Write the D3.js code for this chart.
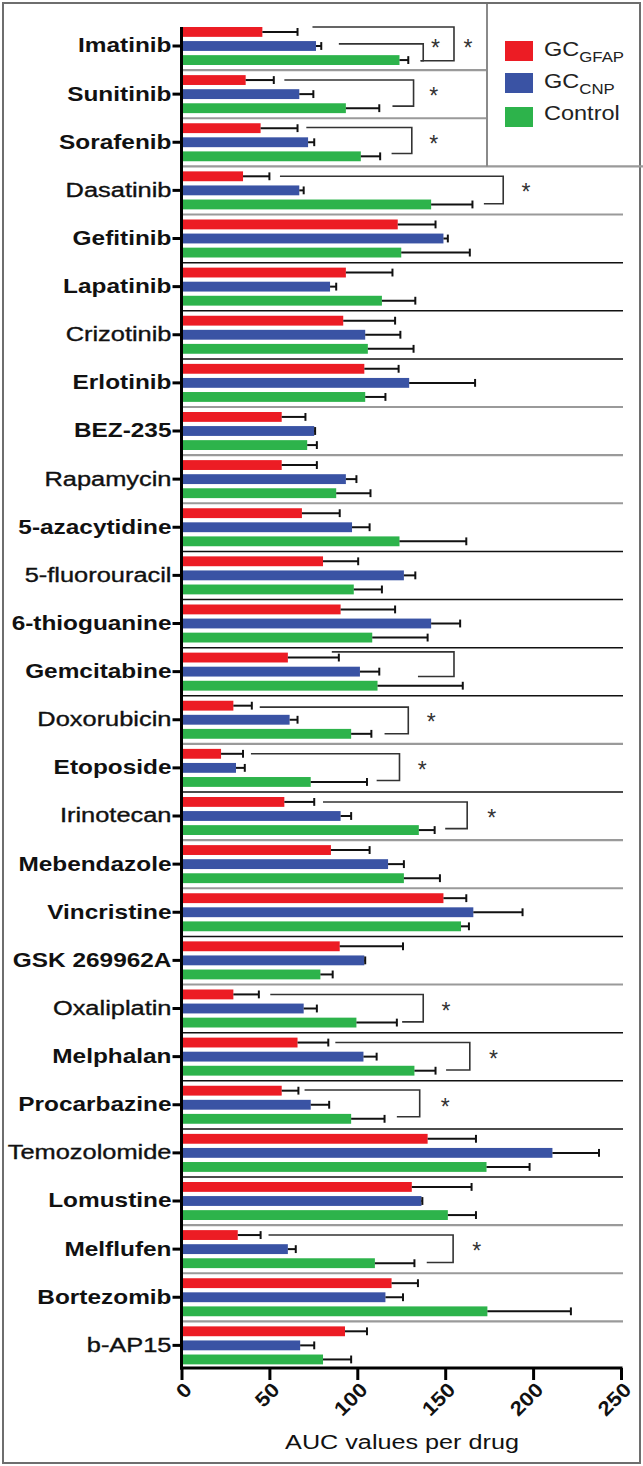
<!DOCTYPE html>
<html>
<head>
<meta charset="utf-8">
<script src="https://cdn.jsdelivr.net/npm/d3@7"></script>
<style>
  body { margin: 0; background: #fff; }
  svg text { font-family: "Liberation Sans", Arial, sans-serif; }
</style>
</head>
<body>
<div id="chart"></div>
<script>
// drugs, top to bottom
const drugs = ['Imatinib', 'Sunitinib', 'Sorafenib', 'Dasatinib', 'Gefitinib', 'Lapatinib',
    'Crizotinib', 'Erlotinib', 'BEZ-235', 'Rapamycin', '5-azacytidine', '5-fluorouracil',
    '6-thioguanine', 'Gemcitabine', 'Doxorubicin', 'Etoposide', 'Irinotecan', 'Mebendazole',
    'Vincristine', 'GSK 269962A', 'Oxaliplatin', 'Melphalan', 'Procarbazine', 'Temozolomide',
    'Lomustine', 'Melflufen', 'Bortezomib', 'b-AP15']

const series = ['GFAP', 'CNP', 'Control']

// AUC means and error bar sizes
const gfap = [46, 36.5, 45, 35, 123, 93.5, 92, 104, 57, 57, 68.5, 80.5, 90.5, 60.5, 29.5, 22.5,
    58.5, 85, 149, 90, 29.5, 66, 57, 140, 131, 32, 119.5, 93]
const gfapErr = [20, 16, 21, 15, 21.5, 26.5, 29.5, 19.5, 13.5, 20, 21.5, 20, 31, 29, 10.5, 12.5,
    17, 22, 13, 36, 14.5, 17.5, 9.5, 27.5, 34, 13, 15, 12.5]
const cnp = [76.5, 67, 72, 67, 149, 84.5, 104.5, 129.5, 75.5, 93.5, 97, 126.5, 142, 101.5, 61.5, 31,
    90.5, 117.5, 166, 104, 69.5, 103.5, 73.5, 211, 136.5, 60.5, 116, 67.5]
const cnpErr = [3, 8, 3.5, 2.5, 2.5, 3.5, 20, 37.5, 0.5, 6, 10, 6.5, 16.5, 11, 4.5, 5,
    6, 9, 28, 0.5, 7.5, 7.5, 10.5, 26.5, 0.5, 4.5, 10, 8]
const control = [124, 93.5, 102, 142, 125, 114, 106, 104.5, 71.5, 88, 124, 98, 108.5, 111.5, 96.5, 73.5,
    135, 126.5, 159, 79, 99.5, 132.5, 96.5, 173.5, 151.5, 110, 174, 80.5]
const controlErr = [5, 19, 11, 23.5, 39, 19, 26, 11.5, 5.5, 19.5, 38, 16, 31.5, 48.5, 11.5, 32,
    9, 20.5, 4.5, 7, 23, 12, 19, 24.5, 16, 22.5, 47.5, 16]

// significance brackets: from/to are series positions (0 = GFAP, 2 = Control)
const brackets = [
    { drug: 'Imatinib', from: -0.35, to: 2.05, at: 155, topStart: 74.5, botStart: 136, star: 163 },
    { drug: 'Imatinib', from: 0.85, to: 2.05, at: 137.5, topStart: 89.5, botStart: 136, star: 144.5 },
    { drug: 'Sunitinib', from: 0, to: 1.85, at: 132, topStart: 58.5, botStart: 120, star: 143.5 },
    { drug: 'Sorafenib', from: -0.05, to: 1.8, at: 131, topStart: 71, botStart: 119.5, star: 143.5 },
    { drug: 'Dasatinib', from: 0, to: 1.95, at: 183, topStart: 56, botStart: 172, star: 196 },
    { drug: 'Gemcitabine', from: -0.4, to: 1.35, at: 155, topStart: 85.5, botStart: 134.5, star: null },
    { drug: 'Doxorubicin', from: 0.1, to: 2, at: 129, topStart: 44.5, botStart: 115.5, star: 142 },
    { drug: 'Etoposide', from: 0, to: 1.9, at: 124, topStart: 39.5, botStart: 111, star: 137 },
    { drug: 'Irinotecan', from: 0, to: 1.9, at: 162.5, topStart: 80.5, botStart: 150, star: 176.5 },
    { drug: 'Oxaliplatin', from: 0, to: 1.95, at: 137.5, topStart: 50.5, botStart: 125.5, star: 150.5 },
    { drug: 'Melphalan', from: 0, to: 1.95, at: 164, topStart: 87.5, botStart: 150.5, star: 177.5 },
    { drug: 'Procarbazine', from: -0.05, to: 1.85, at: 135.5, topStart: 70, botStart: 122.5, star: 150 },
    { drug: 'Melflufen', from: 0, to: 1.95, at: 154.5, topStart: 49.5, botStart: 139.5, star: 168 }
]

const xTicks = [0, 50, 100, 150, 200, 250]

const colors = { GFAP: '#ec1c24', CNP: '#3a53a4', Control: '#2db34b' }
const boldLabels = new Set(['Imatinib', 'Sunitinib', 'Sorafenib', 'Gefitinib', 'Lapatinib', 'Erlotinib',
    'BEZ-235', '5-azacytidine', '6-thioguanine', 'Gemcitabine', 'Etoposide', 'Mebendazole',
    'Vincristine', 'GSK 269962A', 'Melphalan', 'Procarbazine', 'Lomustine', 'Melflufen', 'Bortezomib'])
// separator line below each drug: true = black, false = grey
const darkSep = [0, 0, 0, 0, 1, 1, 1, 0, 0, 0, 1, 1, 1, 1, 0, 1, 0, 0, 1, 0, 1, 1, 1, 1, 0, 0, 0]

const W = 643, H = 1466
const svg = d3.select('#chart').append('svg')
    .attr('width', W)
    .attr('height', H)

const rows = drugs.map((d, i) => ({
    drug: d,
    values: [
        { key: 'GFAP', v: gfap[i], e: gfapErr[i] },
        { key: 'CNP', v: cnp[i], e: cnpErr[i] },
        { key: 'Control', v: control[i], e: controlErr[i] }
    ]
}))

const x = d3.scaleLinear().domain([0, 250]).range([181.5, 621])
const y = d3.scaleBand().domain(drugs).range([22, 1369.5])
const ySub = d3.scaleBand().domain(series).range([5, 43]).paddingInner(0.3)
const bw = ySub.bandwidth()
const subStep = ySub.step()
// y of a (possibly fractional) series position inside a drug band
const posY = (drug, p) => y(drug) + ySub('GFAP') + bw / 2 + p * subStep

// outer frame
svg.append('rect')
    .attr('x', 3).attr('y', 3)
    .attr('width', W - 6).attr('height', H - 6)
    .attr('fill', 'none').attr('stroke', '#6e6e6e').attr('stroke-width', 2)

// separators between drugs
svg.append('g').selectAll('line')
    .data(drugs.slice(0, -1))
    .join('line')
    .attr('x1', x(0))
    .attr('x2', (d, i) => i < 2 ? 487 : (i === 2 ? W : x(250) + 2))
    .attr('y1', d => y(d) + y.bandwidth())
    .attr('y2', d => y(d) + y.bandwidth())
    .attr('stroke', (d, i) => darkSep[i] ? '#111' : '#9a9a9a')
    .attr('stroke-width', (d, i) => darkSep[i] ? 1.5 : 2.2)

// legend box edge
svg.append('line')
    .attr('x1', 487).attr('x2', 487).attr('y1', 4).attr('y2', y('Sorafenib') + y.bandwidth())
    .attr('stroke', '#8a8a8a').attr('stroke-width', 2)

// bars
const groups = svg.append('g').selectAll('g')
    .data(rows)
    .join('g')
    .attr('transform', d => 'translate(0,' + y(d.drug) + ')')

groups.selectAll('rect')
    .data(d => d.values)
    .join('rect')
    .attr('x', x(0))
    .attr('y', d => ySub(d.key))
    .attr('width', d => x(d.v) - x(0))
    .attr('height', bw)
    .attr('fill', d => colors[d.key])

// error bars
groups.selectAll('line.err')
    .data(d => d.values)
    .join('line')
    .attr('class', 'err')
    .attr('x1', d => x(d.v))
    .attr('x2', d => x(d.v + d.e))
    .attr('y1', d => ySub(d.key) + bw / 2)
    .attr('y2', d => ySub(d.key) + bw / 2)
    .attr('stroke', '#111').attr('stroke-width', 2)

groups.selectAll('line.cap')
    .data(d => d.values)
    .join('line')
    .attr('class', 'cap')
    .attr('x1', d => x(d.v + d.e))
    .attr('x2', d => x(d.v + d.e))
    .attr('y1', d => ySub(d.key) + 1)
    .attr('y2', d => ySub(d.key) + bw - 1)
    .attr('stroke', '#111').attr('stroke-width', 2)

// significance brackets
const br = svg.append('g')
br.selectAll('path')
    .data(brackets)
    .join('path')
    .attr('d', b => {
        const y1 = posY(b.drug, b.from), y2 = posY(b.drug, b.to)
        return 'M' + x(b.topStart) + ',' + y1 + 'H' + x(b.at) + 'V' + y2 + 'H' + x(b.botStart)
    })
    .attr('fill', 'none').attr('stroke', '#333').attr('stroke-width', 1.6)

br.selectAll('text')
    .data(brackets.filter(b => b.star !== null))
    .join('text')
    .attr('x', b => x(b.star))
    .attr('y', b => posY(b.drug, 1) + 10)
    .attr('text-anchor', 'middle')
    .attr('font-size', 23)
    .attr('fill', '#333')
    .text('*')

// y axis
const yAxis = svg.append('g')
    .attr('transform', 'translate(' + x(0) + ',0)')
    .call(d3.axisLeft(y).tickSize(9).tickSizeOuter(0).tickPadding(3))
yAxis.select('.domain').remove()
yAxis.selectAll('.tick')
    .attr('transform', d => 'translate(0,' + posY(d, 1) + ')')
yAxis.selectAll('.tick line').attr('stroke', '#000').attr('stroke-width', 3)
yAxis.selectAll('.tick text')
    .attr('x', null)
    .attr('transform', d => 'translate(-10,0) scale(' + (boldLabels.has(d) ? 1.22 : 1.27) + ',1)')
    .attr('font-size', 20)
    .attr('font-weight', d => boldLabels.has(d) ? 'bold' : 'normal')
    .attr('fill', '#111')
    .attr('stroke', d => boldLabels.has(d) ? 'none' : '#111')
    .attr('stroke-width', 0.35)
svg.append('line')
    .attr('x1', x(0)).attr('x2', x(0))
    .attr('y1', 27).attr('y2', 1369.5)
    .attr('stroke', '#000').attr('stroke-width', 3)

// x axis
const xAxis = svg.append('g')
    .attr('transform', 'translate(0,1368)')
    .call(d3.axisBottom(x).tickValues(xTicks).tickSize(12).tickSizeOuter(0))
xAxis.select('.domain').remove()
xAxis.selectAll('.tick line').attr('stroke', '#000').attr('stroke-width', 3)
xAxis.selectAll('.tick text')
    .attr('x', null).attr('y', null).attr('dy', '0.35em')
    .attr('text-anchor', 'end')
    .attr('transform', 'translate(6,18) rotate(-45) scale(1.12,1)')
    .attr('font-size', 20)
    .attr('font-weight', 'bold')
    .attr('fill', '#111')
svg.append('line')
    .attr('x1', x(0) - 1.5).attr('x2', x(250) + 1.5)
    .attr('y1', 1368).attr('y2', 1368)
    .attr('stroke', '#000').attr('stroke-width', 3)

svg.append('text')
    .attr('transform', 'translate(' + 402 + ',1449) scale(1.2,1)')
    .attr('text-anchor', 'middle')
    .attr('font-size', 21)
    .attr('fill', '#111')
    .text('AUC values per drug')

// legend
const legend = svg.append('g').attr('transform', 'translate(505,41)')
const legendRows = legend.selectAll('g')
    .data(series)
    .join('g')
    .attr('transform', (d, i) => 'translate(0,' + [0, 32, 66][i] + ')')
legendRows.append('rect')
    .attr('width', 28).attr('height', 20)
    .attr('fill', d => colors[d])
const legendText = legendRows.append('text')
    .attr('transform', (d, i) => 'translate(39,' + (i === 2 ? 13 : 14.5) + ') scale(1.12,1)')
    .attr('font-size', 21)
    .attr('fill', '#222')
legendText.each(function (d) {
    const t = d3.select(this)
    if (d === 'Control') {
        t.text('Control')
    } else {
        t.append('tspan').text('GC')
        t.append('tspan').attr('font-size', 15).attr('dy', 6.5).text(d)
    }
})
</script>
</body>
</html>
